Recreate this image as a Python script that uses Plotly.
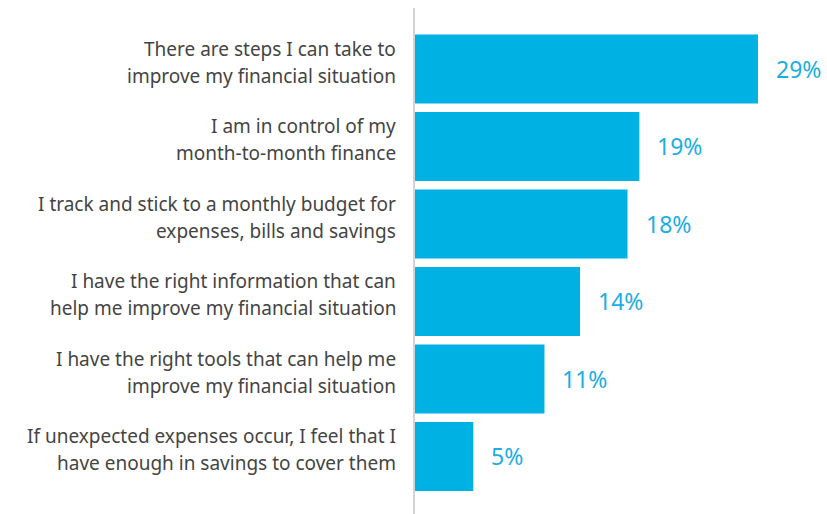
import plotly.graph_objects as go

statements = [
    ["There are steps I can take to", "improve my financial situation"],
    ["I am in control of my", "month-to-month finance"],
    ["I track and stick to a monthly budget for", "expenses, bills and savings"],
    ["I have the right information that can", "help me improve my financial situation"],
    ["I have the right tools that can help me", "improve my financial situation"],
    ["If unexpected expenses occur, I feel that I", "have enough in savings to cover them"],
]
shares = [29, 19, 18, 14, 11, 5]
categories = [" ".join(s) for s in statements]
value_labels = [f"{v}%" for v in shares]

BAR = "#00b1e3"
TEXT = "#444444"
FONT = "'Noto Sans', sans-serif"

fig = go.Figure(
    go.Bar(
        x=shares,
        y=categories,
        orientation="h",
        marker=dict(color=BAR, line=dict(width=0)),
        hoverinfo="skip",
    )
)

# percentage labels placed a little to the right of each bar end
for cat, v, lab in zip(categories, shares, value_labels):
    fig.add_annotation(
        x=v, y=cat, xref="x", yref="y",
        text=lab, showarrow=False,
        xanchor="left", yanchor="middle", xshift=16,
        font=dict(size=23, color="#1aaee2", family=FONT),
    )

# two-line statement labels, right-aligned against the axis line
for cat, lines in zip(categories, statements):
    for i, line in enumerate(lines):
        fig.add_annotation(
            x=0, xref="paper", y=cat, yref="y",
            text=line, showarrow=False,
            xanchor="right", yanchor="middle",
            xshift=-16, yshift=20 - 27 * i,
            font=dict(size=19, color=TEXT, family=FONT),
        )

# vertical baseline
fig.add_shape(
    type="line", xref="paper", yref="paper",
    x0=0, x1=0, y0=0, y1=1,
    line=dict(color="#d4d4d4", width=2),
)

fig.update_layout(
    width=827, height=514,
    margin=dict(l=414, r=0, t=8, b=0),
    paper_bgcolor="white", plot_bgcolor="white",
    bargap=0.11,
    showlegend=False,
    xaxis=dict(range=[0, 34.82], visible=False, fixedrange=True),
    yaxis=dict(
        range=[5.742, -0.787],
        showticklabels=False, showgrid=False, zeroline=False, showline=False,
        fixedrange=True,
    ),
)

fig.write_html("out.html")
